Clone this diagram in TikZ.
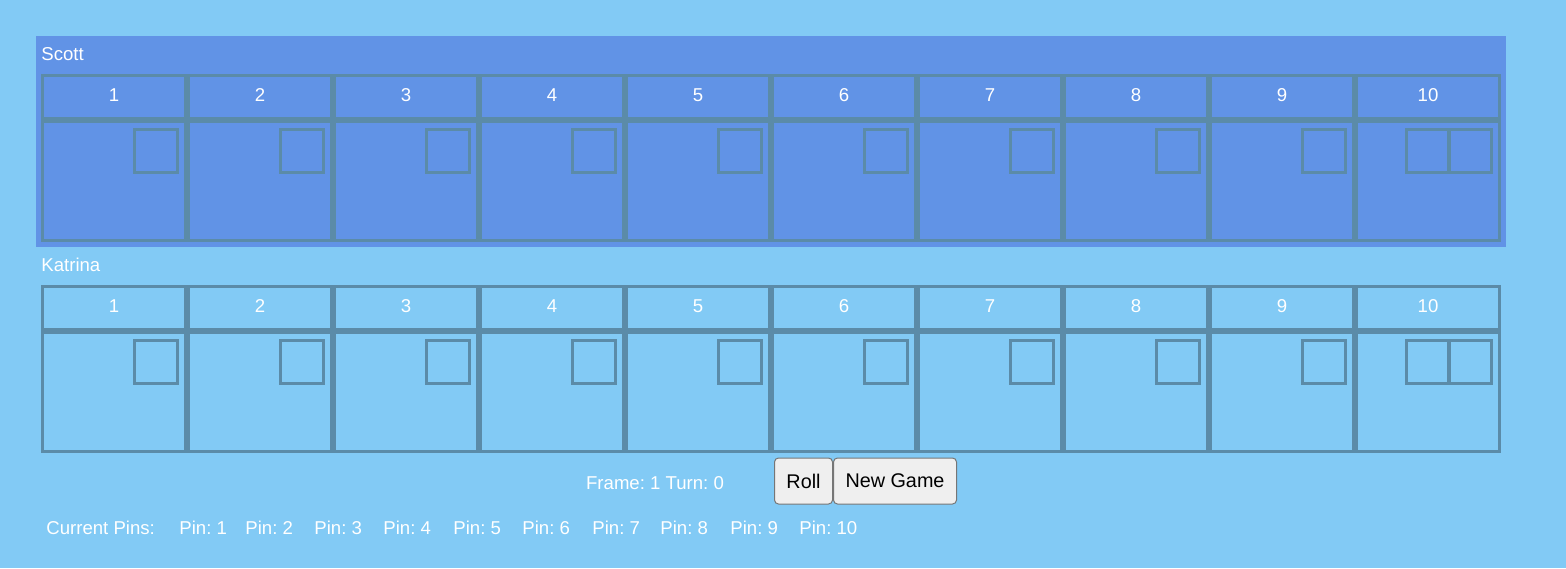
\documentclass[tikz,border=0pt]{standalone}
\usepackage{fontspec}
\setmainfont{Liberation Sans}
\frenchspacing
\definecolor{pagebg}{HTML}{82CAF5}
\definecolor{activebg}{HTML}{6193E6}
\definecolor{gridline}{HTML}{5B8BA8}
\definecolor{btnfill}{HTML}{EFEFEF}
\definecolor{btnline}{HTML}{767676}
\begin{document}
\begin{tikzpicture}[x=0.5pt, y=-0.5pt,
  whitetext/.style={text=white, font=\fontsize{9.3}{11}\selectfont, inner sep=0},
  cellhead/.style={draw=gridline, line width=1.5pt, minimum width=71.5pt, minimum height=21.5pt, inner sep=0, outer sep=0},
  cellbody/.style={draw=gridline, line width=1.5pt, minimum width=71.5pt, minimum height=59.5pt, inner sep=0, outer sep=0},
  rollbox/.style={draw=gridline, line width=1.5pt, minimum size=21.5pt, inner sep=0, outer sep=0},
  btn/.style={draw=btnline, fill=btnfill, line width=0.5pt, rounded corners=2pt, minimum height=23pt, inner sep=0, font=\fontsize{9.9}{12}\selectfont}]
\useasboundingbox (0,0) rectangle (1566,568);
\fill[pagebg] (0,0) rectangle (1566,568);
% active player
\fill[activebg] (36,36) rectangle (1506,247);
\foreach \p/\t/\who in {S/36/Scott, K/247/Katrina} {
  \node[whitetext, anchor=base west] (name\p) at (41,\t+24) {\who};
  \foreach \i in {1,...,10} {
    \pgfmathsetmacro\cx{114+146*(\i-1)}
    \node[cellhead] (head\p\i) at (\cx,\t+61) {};
    \node[whitetext, anchor=base] (num\p\i) at (\cx,\t+65) {\i};
    \node[cellbody] (body\p\i) at (\cx,\t+145) {};
  }
  \foreach \i in {1,...,9} {
    \pgfmathsetmacro\cx{156+146*(\i-1)}
    \node[rollbox] (roll\p\i) at (\cx,\t+115) {};
  }
  % last frame gets two boxes
  \node[rollbox] (roll\p10a) at (1428,\t+115) {};
  \node[rollbox] (roll\p10b) at (1470,\t+115) {};
}
\node[whitetext, anchor=base] (status) at (655,489) {Frame: 1 Turn: 0};
\node[btn, minimum width=29pt] (rollbtn) at (803.5,481) {Roll};
\node[btn, minimum width=61.5pt] (newbtn) at (895,481) {New Game};
\node[whitetext, anchor=base west] (pins) at (46,534) {Current Pins:};
\foreach \i/\x in {1/179, 2/245, 3/314, 4/383, 5/453, 6/522, 7/592, 8/660, 9/730, 10/799}
  \node[whitetext, anchor=base west] (pin\i) at (\x,534) {Pin: \i};
\end{tikzpicture}
\end{document}
